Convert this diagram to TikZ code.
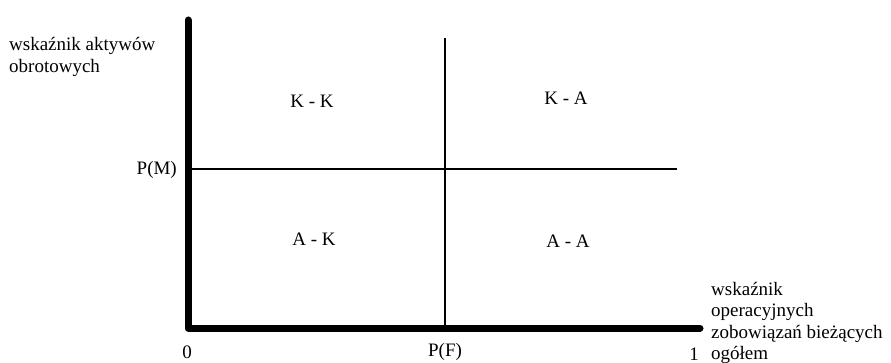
\documentclass[tikz,border=0pt]{standalone}
\usepackage{fontspec}
\setmainfont{Liberation Serif}
\begin{document}
\begin{tikzpicture}[x=1pt,y=-1pt,
  lbl/.style={inner sep=0pt,font=\fontsize{19}{21.5}\selectfont},
  axis/.style={line width=7pt,line join=round,line cap=round},
  thin/.style={line width=1.2pt}]
\useasboundingbox (0,0) rectangle (891,363);
\coordinate (ytop) at (188,20);
\coordinate (orig) at (188,328);
\coordinate (xend) at (700,328);
\coordinate (pft) at (445,38);
\coordinate (pfb) at (445,328);
\coordinate (pml) at (188,169);
\coordinate (pmr) at (677,169);
\draw[thin] (pft) -- (pfb);
\draw[thin] (pml) -- (pmr);
\draw[axis] (ytop) -- (orig) -- (xend);
\node[lbl,anchor=west,align=left] (ylab) at (9,57) {wskaźnik aktywów\\obrotowych};
\node[lbl] (kk) at (312,101) {K - K};
\node[lbl] (ka) at (566,98) {K - A};
\node[lbl] (ak) at (314,239) {A - K};
\node[lbl] (aa) at (568,241) {A - A};
\node[lbl,anchor=east] (pm) at (177,170) {P(M)};
\node[lbl] (zero) at (187,352) {0};
\node[lbl] (pf) at (445,352) {P(F)};
\node[lbl] (one) at (694,354) {1};
\node[lbl,anchor=west,align=left] (xlab) at (711,323) {wskaźnik\\operacyjnych\\zobowiązań bieżących\\ogółem};
\end{tikzpicture}
\end{document}
